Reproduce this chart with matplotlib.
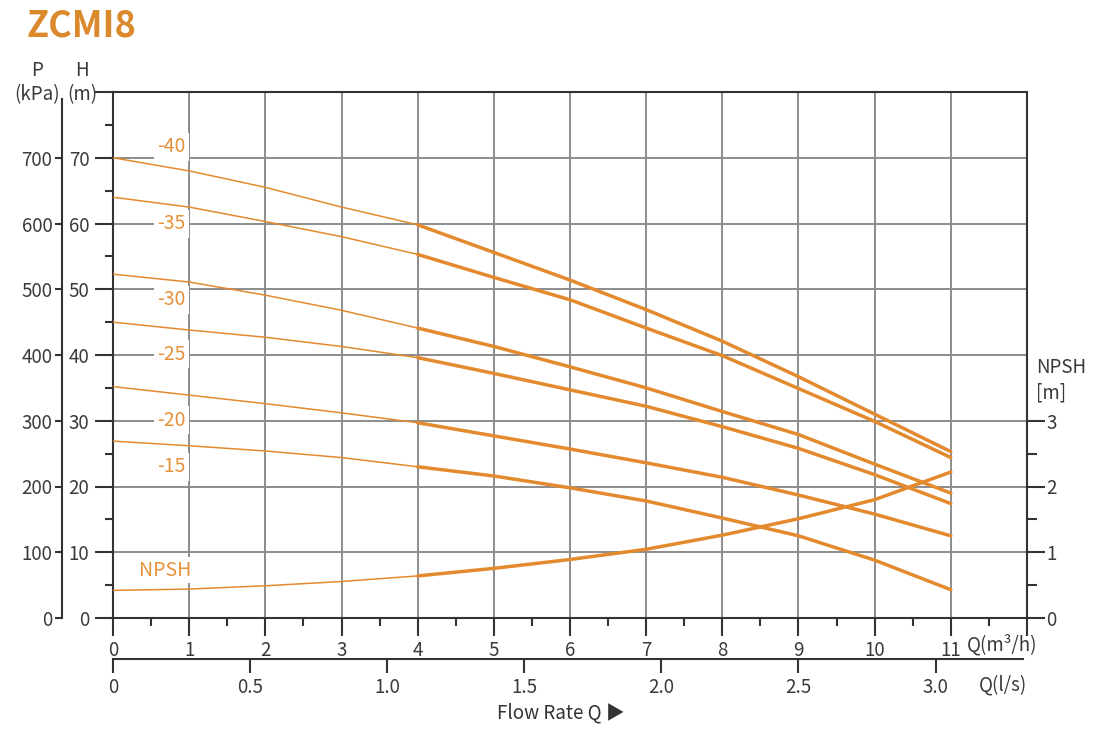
import matplotlib
matplotlib.use('Agg')
import matplotlib.pyplot as plt
from matplotlib.ticker import MultipleLocator, FixedLocator

plt.rcParams['font.family'] = ['Noto Sans CJK SC', 'DejaVu Sans']

# ---------------- data ----------------
flow_m3h = [0, 1, 2, 3, 4, 5, 6, 7, 8, 9, 10, 11]
head_40 = [70.0, 68.0, 65.5, 62.5, 59.8, 55.6, 51.4, 46.9, 42.1, 36.7, 31.0, 25.3]
head_35 = [64.0, 62.5, 60.3, 58.0, 55.3, 51.8, 48.4, 44.1, 39.9, 34.9, 29.9, 24.4]
head_30 = [52.3, 51.1, 49.1, 46.8, 44.1, 41.3, 38.2, 35.0, 31.4, 27.9, 23.4, 19.0]
head_25 = [45.0, 43.8, 42.7, 41.3, 39.6, 37.2, 34.7, 32.2, 29.1, 25.8, 21.8, 17.4]
head_20 = [35.2, 33.9, 32.6, 31.2, 29.7, 27.7, 25.7, 23.6, 21.4, 18.7, 15.8, 12.5]
head_15 = [26.9, 26.2, 25.4, 24.4, 23.0, 21.6, 19.8, 17.8, 15.2, 12.5, 8.8, 4.3]
npsh_m = [0.42, 0.44, 0.49, 0.555, 0.64, 0.755, 0.89, 1.045, 1.26, 1.51, 1.80, 2.22]
curve_names = ['-40', '-35', '-30', '-25', '-20', '-15']
head_curves = [head_40, head_35, head_30, head_25, head_20, head_15]

h_ticks = [0, 10, 20, 30, 40, 50, 60, 70, 80]
h_labels = ['0', '10', '20', '30', '40', '50', '60', '70', '']
p_ticks = [0, 100, 200, 300, 400, 500, 600, 700]
p_labels = ['0', '100', '200', '300', '400', '500', '600', '700']
q_ticks = [0, 1, 2, 3, 4, 5, 6, 7, 8, 9, 10, 11, 12]
q_labels = ['0', '1', '2', '3', '4', '5', '6', '7', '8', '9', '10', '11', '']
ls_ticks = [0, 0.5, 1.0, 1.5, 2.0, 2.5, 3.0]
ls_labels = ['0', '0.5', '1.0', '1.5', '2.0', '2.5', '3.0']
npsh_ticks = [0, 1, 2, 3]
npsh_labels = ['0', '1', '2', '3']

# ---------------- style ----------------
W, H = 1100, 735
LINE = '#E38A2E'
LABEL = '#E6913A'
TITLE = '#DA8A2C'
DARK = '#333333'
TXT = '#3a3a3a'
GRID = '#8c8c8c'
FS = 13.5

fig = plt.figure(figsize=(W / 100, H / 100), dpi=100)
ax = fig.add_axes([113 / W, 1 - 618 / H, 914 / W, 526 / H])
ax.set_xlim(0, 12)
ax.set_ylim(0, 80)

for s in ax.spines.values():
    s.set_color(DARK)
    s.set_linewidth(1.5)

ax.set_yticks(h_ticks)
ax.set_yticklabels(h_labels)
ax.yaxis.set_minor_locator(MultipleLocator(5))
ax.set_xticks(q_ticks)
ax.set_xticklabels(q_labels)
ax.xaxis.set_minor_locator(MultipleLocator(0.5))
ax.tick_params(axis='both', which='major', length=13, width=1.5, color=DARK,
               labelsize=FS, labelcolor=TXT, direction='out')
ax.tick_params(axis='both', which='minor', length=6, width=1.5, color=DARK,
               direction='out')
ax.tick_params(axis='y', which='major', pad=4)
ax.tick_params(axis='x', which='major', pad=3)
ax.grid(which='major', color=GRID, lw=1.4, zorder=0)
ax.set_axisbelow(True)

# head curves: thin up to Q=4, thick afterwards
split = flow_m3h.index(4)
for hc in head_curves:
    ax.plot(flow_m3h[:split + 1], hc[:split + 1], color=LINE, lw=1.1,
            solid_capstyle='round', zorder=3)
    ax.plot(flow_m3h[split:], hc[split:], color=LINE, lw=2.5,
            solid_capstyle='round', solid_joinstyle='round', zorder=3)

# curve labels
label_x = 0.77
label_y = [71.7, 60.0, 48.4, 40.1, 30.1, 23.0]
for name, ly in zip(curve_names, label_y):
    ax.text(label_x, ly, name, color=LABEL, fontsize=14, ha='center', va='center',
            bbox=dict(facecolor='white', edgecolor='none', pad=2.5), zorder=2)
ax.text(0.68, 7.3, 'NPSH', color=LABEL, fontsize=14, ha='center', va='center',
        bbox=dict(facecolor='white', edgecolor='none', pad=2), zorder=2)

# NPSH on its own right axis
axn = ax.twinx()
axn.set_ylim(0, 8)
for s in axn.spines.values():
    s.set_visible(False)
axn.plot(flow_m3h[:split + 1], npsh_m[:split + 1], color=LINE, lw=1.1,
         solid_capstyle='round')
axn.plot(flow_m3h[split:], npsh_m[split:], color=LINE, lw=2.5,
         solid_capstyle='round', solid_joinstyle='round')
axn.set_yticks(npsh_ticks)
axn.set_yticklabels(npsh_labels)
axn.yaxis.set_minor_locator(FixedLocator([0.5, 1.5, 2.5]))
axn.tick_params(axis='y', which='major', length=13, width=1.5, color=DARK,
                labelsize=FS, labelcolor=TXT, pad=1)
axn.tick_params(axis='y', which='minor', length=7, width=1.5, color=DARK)

# pressure axis (kPa) on the far left
sec_p = ax.secondary_yaxis(-51 / 914, functions=(lambda h: h * 10, lambda p: p / 10))
sec_p.set_yticks(p_ticks)
sec_p.set_yticklabels(p_labels)
sec_p.tick_params(axis='y', length=5, width=1.5, color=DARK, labelsize=FS,
                  labelcolor=TXT, pad=2)
sec_p.spines['left'].set_color(DARK)
sec_p.spines['left'].set_linewidth(1.5)
sec_p.spines['left'].set_bounds(0, 790)

# flow in l/s
sec_q = ax.secondary_xaxis(-41 / 526, functions=(lambda q: q / 3.6, lambda l: l * 3.6))
sec_q.set_xticks(ls_ticks)
sec_q.set_xticklabels(ls_labels)
sec_q.tick_params(axis='x', length=10, width=1.5, color=DARK, labelsize=FS,
                  labelcolor=TXT, pad=3)
sec_q.spines['bottom'].set_color(DARK)
sec_q.spines['bottom'].set_linewidth(1.5)
sec_q.spines['bottom'].set_bounds(0, 3.32)

# texts
def ftext(x, y, s, **kw):
    fig.text(x / W, 1 - y / H, s, **kw)

ftext(27, 26, 'ZCMI8', color=TITLE, fontsize=26, fontweight='bold', ha='left', va='center')
ftext(37, 70, 'P', color=TXT, fontsize=FS, ha='center', va='center')
ftext(37, 95, '(kPa)', color=TXT, fontsize=FS, ha='center', va='center')
ftext(82, 70, 'H', color=TXT, fontsize=FS, ha='center', va='center')
ftext(82, 95, '(m)', color=TXT, fontsize=FS, ha='center', va='center')
ftext(1036, 367, 'NPSH', color=TXT, fontsize=FS, ha='left', va='center')
ftext(1036, 393, '[m]', color=TXT, fontsize=FS, ha='left', va='center')
ftext(967, 645, 'Q(m³/h)', color=TXT, fontsize=FS, ha='left', va='center')
ftext(979, 685, 'Q(l/s)', color=TXT, fontsize=FS, ha='left', va='center')
ftext(561, 713, 'Flow Rate Q ▶', color=DARK, fontsize=FS, ha='center', va='center')

fig.savefig('out.png', dpi=100, facecolor='white')
